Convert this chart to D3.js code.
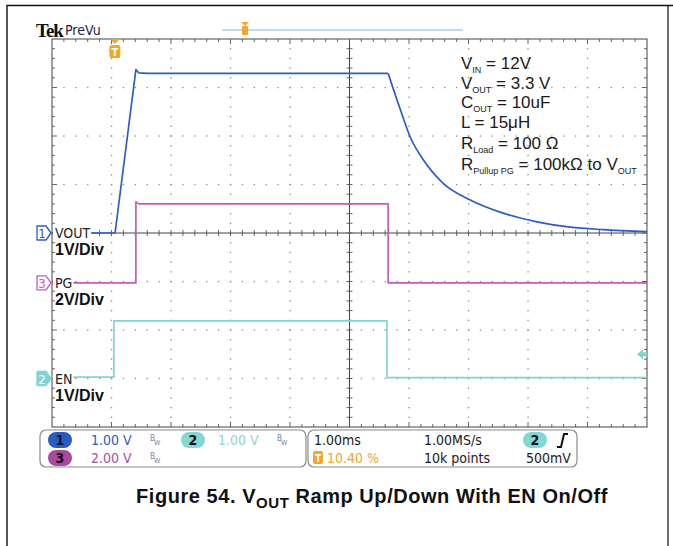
<!DOCTYPE html>
<html>
<head>
<meta charset="utf-8">
<script src="https://cdn.jsdelivr.net/npm/d3@7/dist/d3.min.js"></script>
<style>
  html, body { margin: 0; padding: 0; background: #fff; }
  svg { display: block; }
  .tek { font-family: "DejaVu Sans Condensed", "DejaVu Sans", sans-serif; }
  .arial { font-family: "Liberation Sans", Arial, sans-serif; }
</style>
</head>
<body>
<svg id="scope" width="673" height="546"></svg>
<script>
// time in ms (1 ms/div, 10 div), levels in volts
// VOUT: ramp + flat part, then the RC discharge tail
var voutTime = [0, 1.06, 1.41, 1.46, 1.6, 5.65]
var voutVolts = [0, 0, 3.37, 3.3, 3.29, 3.29]
var voutDecayTime = [5.65, 5.85, 6.02, 6.24, 6.57, 7.03, 7.58, 8.15, 8.71, 9.26, 10]
var voutDecayVolts = [3.29, 2.56, 1.98, 1.51, 1.03, 0.68, 0.41, 0.23, 0.12, 0.07, 0.03]

var pgTime = [0, 1.41, 1.41, 1.46, 5.65, 5.65, 10]
var pgVolts = [0, 0, 3.34, 3.26, 3.26, 0, 0]

var enTime = [0, 1.04, 1.04, 5.63, 5.63, 10]
var enVolts = [0.03, 0.03, 1.19, 1.19, 0.02, 0.02]

var channelNames = ['VOUT', 'PG', 'EN']
var channelNumbers = [1, 3, 2]
var channelScales = ['1V/Div', '2V/Div', '1V/Div']
var voltsPerDiv = [1, 2, 1]

var triggerTime = 1.04
var triggerLevel = 0.5

var conditionLabels = [
    [['V', ''], ['IN', 'sub'], [' = 12V', '']],
    [['V', ''], ['OUT', 'sub'], [' = 3.3 V', '']],
    [['C', ''], ['OUT', 'sub'], [' = 10uF', '']],
    [['L = 15\u03bcH', '']],
    [['R', ''], ['Load', 'sub'], [' = 100 \u03a9', '']],
    [['R', ''], ['Pullup PG', 'sub'], [' = 100k\u03a9 to V', ''], ['OUT', 'sub']]
]

var statusLeft = ['1.00 V', '1.00 V', '2.00 V']
var statusRight = ['1.00ms', '1.00MS/s', '10.40 %', '10k points', '500mV']

;(function () {
    'use strict'

    var svg = d3.select('#scope')

    var plot = { left: 52, top: 39, width: 595, height: 388 },
        divX = plot.width / 10,
        divY = plot.height / 8,
        right = plot.left + plot.width,
        bottom = plot.top + plot.height

    var colors = { 1: '#2d5dc4', 3: '#c25cb8', 2: '#80d4d3' }
    var offsets = [4, 5.03, 7]

    var x = d3.scaleLinear().domain([0, 10]).range([plot.left, right])

    function chScale(i) {
        var gnd = plot.top + offsets[i] * divY
        return d3.scaleLinear().domain([0, voltsPerDiv[i]]).range([gnd, gnd - divY])
    }

    var scales = [chScale(0), chScale(1), chScale(2)]

    // page frame
    svg.append('rect').attr('width', 673).attr('height', 546).attr('fill', '#fff')
    svg.append('path')
        .attr('d', 'M7,560 V5.5 H673')
        .attr('fill', 'none').attr('stroke', '#111').attr('stroke-width', 1.4)
    svg.append('line')
        .attr('x1', 668).attr('x2', 668).attr('y1', 5).attr('y2', 546)
        .attr('stroke', '#111').attr('stroke-width', 1.2)

    // graticule
    var grat = svg.append('g')
    var dots = []
    d3.range(1, 8).forEach(function (j) {
        if (j === 4) return
        d3.range(1, 50).forEach(function (k) {
            dots.push([plot.left + k * divX / 5, plot.top + j * divY])
        })
    })
    d3.range(1, 10).forEach(function (i) {
        if (i === 5) return
        d3.range(1, 40).forEach(function (k) {
            dots.push([plot.left + i * divX, plot.top + k * divY / 5])
        })
    })
    grat.selectAll('rect.dot').data(dots).enter().append('rect')
        .attr('class', 'dot')
        .attr('x', function (d) { return d[0] - 0.6 })
        .attr('y', function (d) { return d[1] - 0.6 })
        .attr('width', 1.3).attr('height', 1.3)
        .attr('fill', '#8a8a8a')

    var cx = plot.left + 5 * divX,
        cy = plot.top + 4 * divY

    grat.append('line').attr('x1', plot.left).attr('x2', right).attr('y1', cy).attr('y2', cy)
        .attr('stroke', '#444').attr('stroke-width', 1)
    grat.append('line').attr('x1', cx).attr('x2', cx).attr('y1', plot.top).attr('y2', bottom)
        .attr('stroke', '#444').attr('stroke-width', 1)

    var ticks = []
    d3.range(1, 50).forEach(function (k) {
        var px = plot.left + k * divX / 5
        var len = k % 5 === 0 ? 5 : 3
        ticks.push([px, cy - 3, px, cy + 3])
        ticks.push([px, plot.top, px, plot.top + len])
        ticks.push([px, bottom, px, bottom - len])
    })
    d3.range(1, 40).forEach(function (k) {
        var py = plot.top + k * divY / 5
        var len = k % 5 === 0 ? 5 : 3
        ticks.push([cx - 3, py, cx + 3, py])
        ticks.push([plot.left, py, plot.left + len, py])
        ticks.push([right, py, right - len, py])
    })
    grat.selectAll('line.tick').data(ticks).enter().append('line')
        .attr('class', 'tick')
        .attr('x1', function (d) { return d[0] }).attr('y1', function (d) { return d[1] })
        .attr('x2', function (d) { return d[2] }).attr('y2', function (d) { return d[3] })
        .attr('stroke', '#555').attr('stroke-width', 0.9)

    grat.append('rect')
        .attr('x', plot.left).attr('y', plot.top)
        .attr('width', plot.width).attr('height', plot.height)
        .attr('fill', 'none').attr('stroke', '#555').attr('stroke-width', 1.1)

    // traces
    var traces = [
        { ch: 0, t: voutTime, v: voutVolts, curve: d3.curveLinear },
        { ch: 0, t: voutDecayTime, v: voutDecayVolts, curve: d3.curveMonotoneX },
        { ch: 1, t: pgTime, v: pgVolts, curve: d3.curveLinear },
        { ch: 2, t: enTime, v: enVolts, curve: d3.curveLinear }
    ]

    traces.forEach(function (tr) {
        var y = scales[tr.ch]
        var line = d3.line()
            .x(function (d) { return x(d[0]) })
            .y(function (d) { return y(d[1]) })
            .curve(tr.curve)
        svg.append('path')
            .datum(d3.zip(tr.t, tr.v))
            .attr('d', line)
            .attr('fill', 'none')
            .attr('stroke', colors[channelNumbers[tr.ch]])
            .attr('stroke-width', 1.7)
            .attr('stroke-linejoin', 'round')
    })

    // channel labels and markers
    channelNames.forEach(function (name, i) {
        var num = channelNumbers[i],
            col = colors[num],
            gy = scales[i](0)

        var lbl = svg.append('text')
            .attr('class', 'tek')
            .attr('x', 55).attr('y', gy + 5)
            .attr('font-size', 14).attr('fill', '#222')
            .text(name)
        var w = lbl.node().getComputedTextLength()
        svg.insert('rect', function () { return lbl.node() })
            .attr('x', 53).attr('y', gy - 7).attr('width', w + 3).attr('height', 14)
            .attr('fill', '#fff')

        svg.append('path')
            .attr('d', 'M37,' + (gy - 7) + ' H46 L51,' + gy + ' L46,' + (gy + 7) + ' H37 Z')
            .attr('fill', num === 2 ? col : '#fff')
            .attr('stroke', col).attr('stroke-width', 1.3)
            .attr('stroke-linejoin', 'round')
        svg.append('text')
            .attr('class', 'tek')
            .attr('x', 42).attr('y', gy + 5)
            .attr('text-anchor', 'middle')
            .attr('font-size', 13)
            .attr('fill', num === 2 ? '#fff' : col)
            .text(num)

        svg.append('text')
            .attr('class', 'arial')
            .attr('x', 55).attr('y', gy + 22)
            .attr('font-size', 16).attr('font-weight', 'bold').attr('fill', '#111')
            .text(channelScales[i])
    })

    // trigger markers
    var orange = '#f4a52c'
    var tx = x(triggerTime) + 1
    svg.append('path')
        .attr('d', 'M' + (tx - 5) + ',' + plot.top + ' H' + (tx + 5) + ' L' + tx + ',' + (plot.top + 5) + ' Z')
        .attr('fill', orange)
    svg.append('rect')
        .attr('x', tx - 5.5).attr('y', plot.top + 6).attr('width', 11).attr('height', 13).attr('rx', 2.5)
        .attr('fill', orange)
    svg.append('text')
        .attr('class', 'tek')
        .attr('x', tx).attr('y', plot.top + 17)
        .attr('text-anchor', 'middle').attr('font-size', 11).attr('font-weight', 'bold')
        .attr('fill', '#fff').text('T')

    var ly = scales[2](triggerLevel)
    svg.append('path')
        .attr('d', 'M' + (right - 10) + ',' + ly + ' L' + (right - 4) + ',' + (ly - 5) + ' V' + (ly - 2) + ' H' + right + ' V' + (ly + 2) + ' H' + (right - 4) + ' V' + (ly + 5) + ' Z')
        .attr('fill', colors[2])

    // header
    svg.append('text')
        .attr('x', 36).attr('y', 37)
        .attr('font-family', '"Liberation Serif", serif')
        .attr('font-size', 19).attr('font-weight', 'bold').attr('letter-spacing', -1)
        .attr('fill', '#111').text('Tek')
    svg.append('text')
        .attr('class', 'tek')
        .attr('x', 65).attr('y', 35)
        .attr('font-size', 14).attr('fill', '#1d2540').text('PreVu')

    svg.append('line')
        .attr('x1', 222).attr('x2', 463).attr('y1', 30).attr('y2', 30)
        .attr('stroke', '#a9d0ea').attr('stroke-width', 1.5)
    svg.append('path')
        .attr('d', 'M241,22 H249 L245,26 Z')
        .attr('fill', orange)
    svg.append('rect')
        .attr('x', 242).attr('y', 26).attr('width', 6).attr('height', 9).attr('rx', 1)
        .attr('fill', orange)

    // test conditions
    var cond = svg.append('g').attr('class', 'arial').attr('fill', '#1a1a1a')
    var condY = [69, 89, 108, 128, 149, 170]
    conditionLabels.forEach(function (parts, i) {
        var t = cond.append('text').attr('x', 461).attr('y', condY[i]).attr('font-size', 17)
        var sub = false
        parts.forEach(function (p) {
            var s = t.append('tspan').text(p[0])
            if (p[1] === 'sub') {
                s.attr('font-size', 9).attr('dy', 4)
                sub = true
            } else if (sub) {
                s.attr('dy', -4)
                sub = false
            }
        })
    })

    // status panel
    var panel = svg.append('g').attr('class', 'tek')
    panel.append('rect')
        .attr('x', 40).attr('y', 430).attr('width', 266).attr('height', 37).attr('rx', 6)
        .attr('fill', '#fff').attr('stroke', '#8a8a8a').attr('stroke-width', 1.2)
    panel.append('rect')
        .attr('x', 308).attr('y', 430).attr('width', 269).attr('height', 37).attr('rx', 6)
        .attr('fill', '#fff').attr('stroke', '#8a8a8a').attr('stroke-width', 1.2)

    var pills = [
        { n: 1, cx: 60, cy: 440, fill: '#2a5cc0', txt: '#0c1a3c' },
        { n: 2, cx: 193, cy: 440, fill: '#86d6d4', txt: '#111' },
        { n: 3, cx: 60, cy: 458, fill: '#a8489f', txt: '#1a0a18' },
        { n: 2, cx: 535, cy: 440, fill: '#86d6d4', txt: '#111' }
    ]
    pills.forEach(function (p) {
        panel.append('rect')
            .attr('x', p.cx - 12).attr('y', p.cy - 8).attr('width', 24).attr('height', 16).attr('rx', 8)
            .attr('fill', p.fill)
        panel.append('text')
            .attr('x', p.cx).attr('y', p.cy + 5)
            .attr('text-anchor', 'middle').attr('font-size', 14).attr('font-weight', 'bold')
            .attr('fill', p.txt).text(p.n)
    })

    var leftPos = [[91, 445, colors[1]], [218, 445, '#8fd6d6'], [91, 463, '#a84ea3']]
    statusLeft.forEach(function (s, i) {
        panel.append('text')
            .attr('x', leftPos[i][0]).attr('y', leftPos[i][1])
            .attr('font-size', 14).attr('fill', leftPos[i][2]).text(s)
    })
    ;[[150, 440], [277, 440], [150, 458]].forEach(function (p) {
        var bw = panel.append('text').attr('x', p[0]).attr('y', p[1] + 1)
            .attr('font-size', 8).attr('fill', '#6d7fa6')
        bw.append('tspan').text('B')
        bw.append('tspan').attr('font-size', 7).attr('dy', 4).attr('dx', -1).text('W')
    })

    var rightPos = [[314, 445, '#1a1a1a'], [424, 445, '#1a1a1a'], [327, 463, orange], [424, 463, '#1a1a1a'], [526, 463, '#1a1a1a']]
    statusRight.forEach(function (s, i) {
        panel.append('text')
            .attr('x', rightPos[i][0]).attr('y', rightPos[i][1])
            .attr('font-size', 14).attr('fill', rightPos[i][2]).text(s)
    })
    panel.append('rect')
        .attr('x', 313).attr('y', 451).attr('width', 10).attr('height', 13).attr('rx', 2)
        .attr('fill', orange)
    panel.append('text')
        .attr('x', 318).attr('y', 462).attr('text-anchor', 'middle')
        .attr('font-size', 10).attr('font-weight', 'bold').attr('fill', '#fff').text('T')
    panel.append('path')
        .attr('d', 'M557,447 H561 L564,434 H568')
        .attr('fill', 'none').attr('stroke', '#111').attr('stroke-width', 2)

    // caption
    var cap = svg.append('text')
        .attr('class', 'arial')
        .attr('x', 372).attr('y', 503)
        .attr('text-anchor', 'middle')
        .attr('font-size', 20).attr('font-weight', 'bold').attr('letter-spacing', 0.55)
        .attr('fill', '#111')
    cap.append('tspan').text('Figure 54. V')
    cap.append('tspan').attr('font-size', 15).attr('dy', 5).text('OUT')
    cap.append('tspan').attr('dy', -5).text(' Ramp Up/Down With EN On/Off')
})()
</script>
</body>
</html>
